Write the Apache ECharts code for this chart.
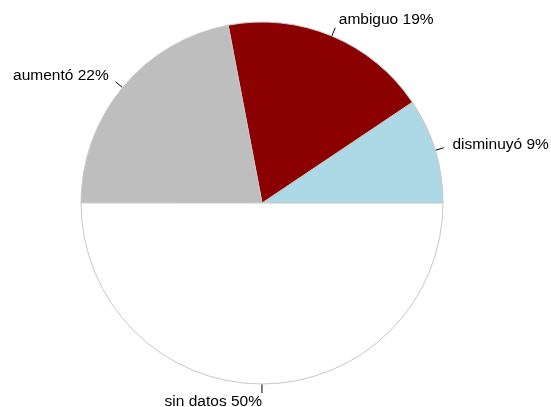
<!DOCTYPE html>
<html><head><meta charset="utf-8">
<script src="https://cdn.jsdelivr.net/npm/echarts@6/dist/echarts.min.js"></script>
<style>html,body{margin:0;padding:0;background:#fff}#c{width:551px;height:407px}</style>
</head><body><div id="c"></div>
<script>
var categories = ['disminuyó', 'ambiguo', 'aumentó', 'sin datos'];
var values = [9.4, 18.6, 22.0, 50.0];
var pctLabels = ['9%', '19%', '22%', '50%'];
var colors = ['#ADD8E6', '#8B0000', '#BEBEBE', '#FFFFFF'];

var R = 181;
var chart = echarts.init(document.getElementById('c'), null, {renderer: 'canvas'});
var base = {
  type: 'pie', center: [262, 203], radius: [0, R], startAngle: -0.01, clockwise: false,
  avoidLabelOverlap: false, animation: false, silent: true, minShowLabelAngle: 0
};
var tickData = categories.map(function (c, i) {
  return {name: c, value: values[i], itemStyle: {color: colors[i]}};
});
var textData = categories.map(function (c, i) {
  return {name: c, value: values[i]};
});
chart.setOption({
  backgroundColor: '#ffffff',
  series: [
    Object.assign({}, base, {
      data: tickData,
      itemStyle: {borderColor: '#c8c8c8', borderWidth: 1},
      label: {show: true, formatter: ' ', fontSize: 1},
      labelLine: {show: true, length: 9, length2: 0, smooth: false, lineStyle: {color: '#000', width: 1}}
    }),
    Object.assign({}, base, {
      data: textData,
      itemStyle: {color: 'rgba(0,0,0,0)', borderWidth: 0},
      labelLayout: {hideOverlap: false},
      label: {
        show: true, position: 'outside', distanceToLabelLine: 0, edgeDistance: 0,
        formatter: function (p) { return p.name + ' ' + pctLabels[p.dataIndex]; },
        fontFamily: 'Liberation Sans, Arial, sans-serif', fontSize: 15.5, color: '#000'
      },
      labelLine: {show: false, length: 18, length2: 0}
    })
  ]
});
</script></body></html>
